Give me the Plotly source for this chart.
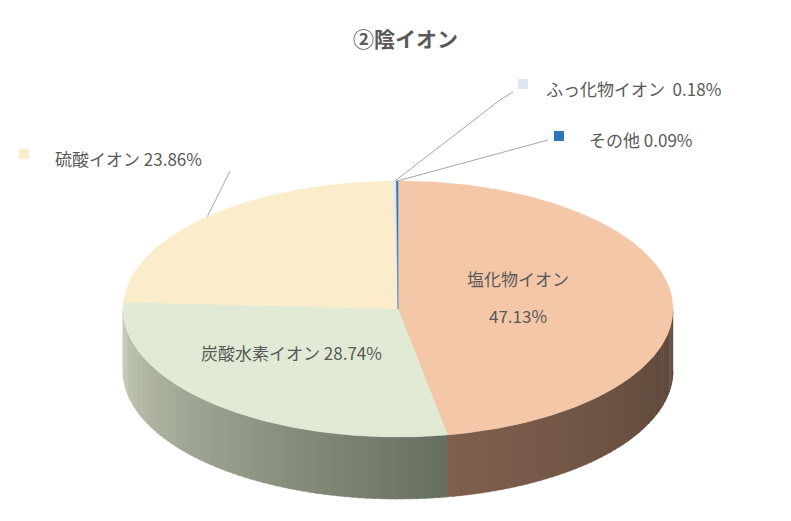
import numpy as np
import plotly.graph_objects as go

categories = ["塩化物イオン", "炭酸水素イオン", "硫酸イオン", "ふっ化物イオン", "その他"]
values = [47.13, 28.74, 23.86, 0.18, 0.09]
name_text = ["塩化物イオン", "炭酸水素イオン 28.74%", "硫酸イオン 23.86%", "ふっ化物イオン  0.18%", "その他 0.09%"]
pct_first = "47.13%"
top_colors = ["#f4c7a8", "#e0ead4", "#fbeccb", "#dde8f4", "#2e75b6"]
side_from = [(0x80, 0x60, 0x4e), (0xc6, 0xcc, 0xb6), (0xd0, 0xc4, 0xa8), (0xb0, 0xb8, 0xc4), (0x20, 0x50, 0x80)]
side_to = [(0x5a, 0x46, 0x3a), (0x66, 0x6e, 0x60), (0xb0, 0xa4, 0x88), (0x90, 0x98, 0xa4), (0x18, 0x40, 0x70)]

CX, CY, RX, RY, DEPTH = 390, 301, 275, 128, 62
FONT = "Noto Sans CJK JP"

def pt(theta_deg, dy=0.0):
    t = np.radians(theta_deg)
    return CX + RX * np.sin(t), CY - RY * np.cos(t) + dy

fig = go.Figure()
total = sum(values)
bounds = np.concatenate([[0], np.cumsum(values) / total * 360])

for i in range(len(values)):
    a0, a1 = max(bounds[i], 90), min(bounds[i + 1], 270)
    if a1 <= a0:
        continue
    n = max(2, int((a1 - a0) / 1.5))
    edges = np.linspace(a0, a1, n + 1)
    for j in range(n):
        s, e = edges[j], edges[j + 1]
        if i == 0:
            f = (s - a0) / (a1 - a0)   # light at left (high theta? no) -> handled below
            f = 1 - f
        else:
            f = (a1 - e) / (a1 - a0)   # 0 at left (theta=270), 1 at right
        c0, c1 = side_from[i], side_to[i]
        col = "rgb(%d,%d,%d)" % tuple(int(c0[k] + (c1[k] - c0[k]) * f) for k in range(3))
        ths = np.linspace(s, e + 0.3, 4)
        xs = [pt(t)[0] for t in ths] + [pt(t, DEPTH)[0] for t in ths[::-1]]
        ys = [pt(t)[1] for t in ths] + [pt(t, DEPTH)[1] for t in ths[::-1]]
        fig.add_trace(go.Scatter(x=xs, y=ys, fill="toself", fillcolor=col, mode="lines",
                                 line=dict(color=col, width=0.5), hoverinfo="skip", showlegend=False))

for i in range(len(values)):
    ths = np.linspace(bounds[i], bounds[i + 1], max(3, int((bounds[i + 1] - bounds[i]) * 2)))
    xs = [CX] + [pt(t)[0] for t in ths] + [CX]
    ys = [CY] + [pt(t)[1] for t in ths] + [CY]
    fig.add_trace(go.Scatter(x=xs, y=ys, fill="toself", fillcolor=top_colors[i], mode="lines",
                             line=dict(color=top_colors[i], width=0.5), hoverinfo="skip", showlegend=False))

grey = "#595959"
ann = []
pos = [(510, 270), (283, 344), (120, 150), (625, 80), (633, 131)]
for i, (x, y) in enumerate(pos):
    ann.append(dict(x=x, y=y, text=name_text[i], showarrow=False, font=dict(family=FONT, size=17, color=grey)))
ann.append(dict(x=510, y=307, text=pct_first, showarrow=False, font=dict(family=FONT, size=17, color=grey)))
sq = [None, (163, 344), (16, 146), (515, 76), (551, 128)]
for i in range(1, len(values)):
    x, y = sq[i]
    fig.add_shape(type="rect", x0=x - 5, x1=x + 5, y0=y - 5, y1=y + 5, fillcolor=top_colors[i], line_width=0)
mid = [(bounds[i] + bounds[i + 1]) / 2 for i in range(len(values))]
ex, ey = pt(mid[3]); fig.add_shape(type="path", path=f"M 505 84 L 492 92 L {ex} {ey}", line=dict(color="#a6a6a6", width=1))
ex, ey = pt(mid[4]); fig.add_shape(type="path", path=f"M 540 132 L {ex} {ey}", line=dict(color="#a6a6a6", width=1))
ex, ey = pt(mid[2]); fig.add_shape(type="path", path=f"M 222 163 L {ex} {ey}", line=dict(color="#a6a6a6", width=1))

ann.append(dict(x=397, y=30, text="<b>②陰イオン</b>", showarrow=False, font=dict(family=FONT, size=21, color=grey)))

fig.update_layout(width=791, height=521, margin=dict(l=0, r=0, t=0, b=0), paper_bgcolor="white", plot_bgcolor="white",
                  xaxis=dict(range=[0, 791], visible=False, fixedrange=True),
                  yaxis=dict(range=[521, 0], visible=False, fixedrange=True),
                  annotations=ann, showlegend=False)
fig.write_html("out.html")
